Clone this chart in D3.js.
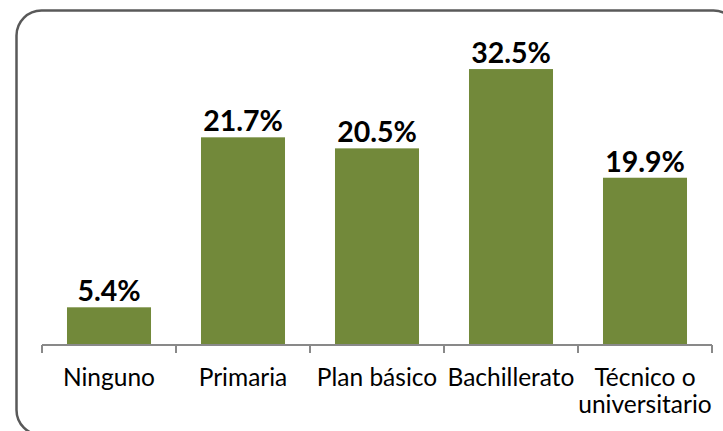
<!DOCTYPE html>
<html>
<head>
<meta charset="utf-8">
<script src="https://cdn.jsdelivr.net/npm/d3@7"></script>
<style>
  html, body { margin: 0; padding: 0; background: #ffffff; }
  svg { display: block; }
</style>
</head>
<body>
<svg id="chart" width="723" height="431"></svg>
<script>
// Data
const categories = ["Ninguno", "Primaria", "Plan básico", "Bachillerato", "Técnico o universitario"];
const categoryLines = [["Ninguno"], ["Primaria"], ["Plan básico"], ["Bachillerato"], ["Técnico o", "universitario"]];
// bar heights as drawn in the picture (percent units)
const values = [4.44, 24.46, 23.16, 32.5, 19.7];
// value labels printed above bars
const valueLabels = ["5.4%", "21.7%", "20.5%", "32.5%", "19.9%"];

const svg = d3.select("#chart");

// frame
svg.append("rect")
  .attr("x", 16.5).attr("y", 10.5)
  .attr("width", 722).attr("height", 424.5)
  .attr("rx", 25).attr("ry", 25)
  .attr("fill", "#ffffff")
  .attr("stroke", "#595959")
  .attr("stroke-width", 2.5);

const x0 = 42, x1 = 712, yBase = 345, yTop = 30;
const x = d3.scaleBand().domain(categories).range([x0, x1]).paddingInner(0.373).paddingOuter(0.1865);
const y = d3.scaleLinear().domain([0, 37.1]).range([yBase, yTop]);

// bars
svg.selectAll("rect.bar").data(categories).enter().append("rect")
  .attr("class", "bar")
  .attr("x", d => x(d))
  .attr("y", (d, i) => y(values[i]))
  .attr("width", x.bandwidth())
  .attr("height", (d, i) => yBase - y(values[i]))
  .attr("fill", "#72893a");

// value labels
svg.selectAll("text.val").data(categories).enter().append("text")
  .attr("class", "val")
  .attr("x", d => x(d) + x.bandwidth() / 2)
  .attr("y", (d, i) => y(values[i]) - 6)
  .attr("text-anchor", "middle")
  .attr("font-family", "Lato, 'Open Sans', sans-serif")
  .attr("font-weight", "bold")
  .attr("font-size", 28.5)
  .attr("fill", "#000000")
  .text((d, i) => valueLabels[i]);

// axis line + ticks at category boundaries
const step = x.step();
svg.append("line")
  .attr("x1", x0).attr("x2", x1)
  .attr("y1", yBase).attr("y2", yBase)
  .attr("stroke", "#898989").attr("stroke-width", 2);
d3.range(categories.length + 1).forEach(i => {
  const tx = x0 + i * step;
  svg.append("line")
    .attr("x1", tx).attr("x2", tx)
    .attr("y1", yBase).attr("y2", yBase + 8)
    .attr("stroke", "#898989").attr("stroke-width", 2);
});

// category labels
categories.forEach((c, i) => {
  const t = svg.append("text")
    .attr("x", x(c) + x.bandwidth() / 2)
    .attr("y", 386)
    .attr("text-anchor", "middle")
    .attr("font-family", "Lato, 'Open Sans', sans-serif")
    .attr("font-size", 24.5)
    .attr("fill", "#000000");
  categoryLines[i].forEach((ln, j) => {
    t.append("tspan")
      .attr("x", x(c) + x.bandwidth() / 2)
      .attr("dy", j === 0 ? 0 : 27)
      .text(ln);
  });
});
</script>
</body>
</html>
